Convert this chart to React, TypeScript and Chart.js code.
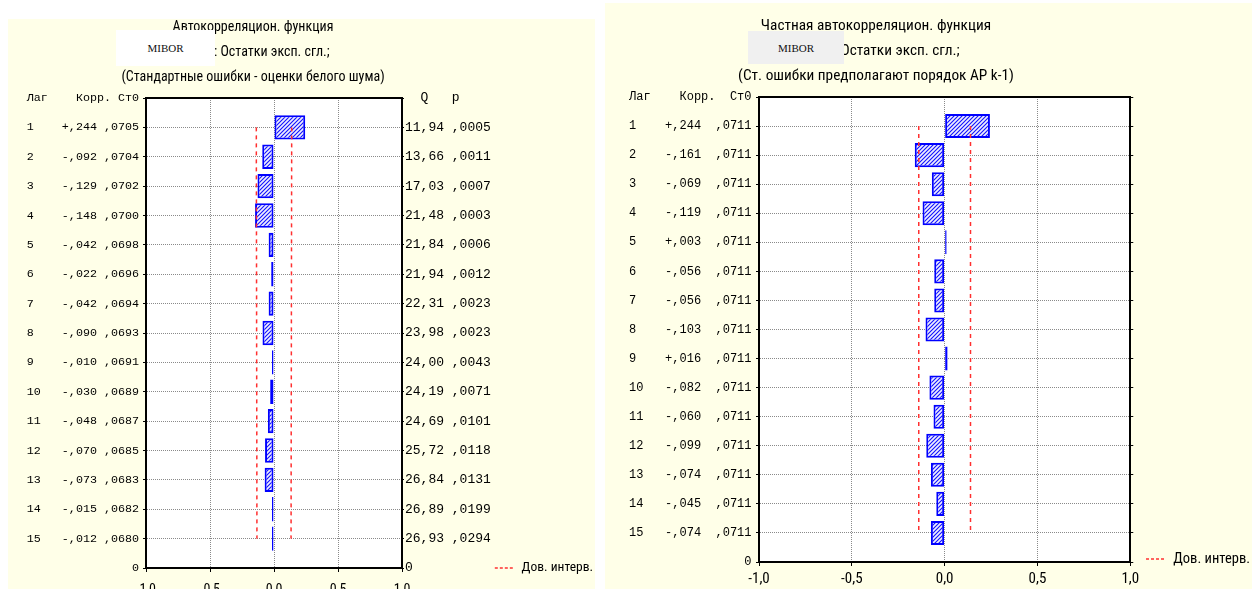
import React, { useEffect, useRef } from 'react';
import { Chart, registerables } from 'chart.js';

Chart.register(...registerables);

// ---------------- data ----------------
const VARIABLE = 'MIBOR';
const LAGS = [1, 2, 3, 4, 5, 6, 7, 8, 9, 10, 11, 12, 13, 14, 15];

const ACF_CORR = [0.244, -0.092, -0.129, -0.148, -0.042, -0.022, -0.042, -0.09, -0.01, -0.03, -0.048, -0.07, -0.073, -0.015, -0.012];
const ACF_SE = [0.0705, 0.0704, 0.0702, 0.07, 0.0698, 0.0696, 0.0694, 0.0693, 0.0691, 0.0689, 0.0687, 0.0685, 0.0683, 0.0682, 0.068];
const ACF_Q = [11.94, 13.66, 17.03, 21.48, 21.84, 21.94, 22.31, 23.98, 24.0, 24.19, 24.69, 25.72, 26.84, 26.89, 26.93];
const ACF_P = [0.0005, 0.0011, 0.0007, 0.0003, 0.0006, 0.0012, 0.0023, 0.0023, 0.0043, 0.0071, 0.0101, 0.0118, 0.0131, 0.0199, 0.0294];

const PACF_CORR = [0.244, -0.161, -0.069, -0.119, 0.003, -0.056, -0.056, -0.103, 0.016, -0.082, -0.06, -0.099, -0.074, -0.045, -0.074];
const PACF_SE = [0.0711, 0.0711, 0.0711, 0.0711, 0.0711, 0.0711, 0.0711, 0.0711, 0.0711, 0.0711, 0.0711, 0.0711, 0.0711, 0.0711, 0.0711];

const X_MIN = -1;
const X_MAX = 1;
const X_STEP = 0.5;
const Z95 = 1.96;

const ACF_TITLE = ['Автокорреляцион. функция', `${VARIABLE}: Остатки эксп. сгл.;`, '(Стандартные ошибки - оценки белого шума)'];
const PACF_TITLE = ['Частная автокорреляцион. функция', `${VARIABLE}: Остатки эксп. сгл.;`, '(Ст. ошибки предполагают порядок АР k-1)'];
const TABLE_HEAD = ['Лаг', 'Корр.', 'Ст0'];
const Q_HEAD = ['Q', 'p'];
const LEGEND_TEXT = 'Дов. интерв.';

// ---------------- styles ----------------
const CREAM = '#ffffe8';
const NARROW = "Roboto, 'DejaVu Sans Condensed', sans-serif";
const NARROW_W = 'condensed';
const MONO = "'Liberation Mono', 'DejaVu Sans Mono', monospace";
const BAR_BLUE = '#0000ff';
const CI_RED = '#ff3030';
const GRID = '#8a8a8a';
const NONE = 'rgba(0,0,0,0)';

const Y_MAX = LAGS.length + 1;

const frac = (v: number, d: number) => Math.abs(v).toFixed(d).replace(/^0\./, ',');
const signed = (v: number, d: number) => (v < 0 ? '-' : '+') + frac(v, d);
const dec = (v: number, d: number) => v.toFixed(d).replace('.', ',');

type Geo = {
  left: number; top: number; width: number; height: number;
  plotLeft: number; plotRight: number; padBottom: number;
  xAxisH: number; xLabelPad: number; xFont: number; topAxisH: number;
  titleFont: number; legendFont: number; legendPad: number;
  leftFont: number; leftTick: number; leftPad: number;
  rightFont: number; rightTick: number; rightPad: number;
};

type Spec = {
  title: string[];
  corr: number[];
  se: number[];
  leftText: (i: number) => string;
  leftHead: string;
  rightText: (i: number) => string;
  rightHead: string;
  rightZero: boolean;
  geo: Geo;
};

const ACF_SPEC: Spec = {
  title: ACF_TITLE,
  corr: ACF_CORR,
  se: ACF_SE,
  leftText: (i) => String(LAGS[i]).padEnd(5) + signed(ACF_CORR[i], 3) + ' ' + frac(ACF_SE[i], 4),
  leftHead: TABLE_HEAD[0].padEnd(7) + TABLE_HEAD[1] + ' ' + TABLE_HEAD[2],
  rightText: (i) => dec(ACF_Q[i], 2) + ' ' + frac(ACF_P[i], 4),
  rightHead: '  ' + Q_HEAD[0] + '   ' + Q_HEAD[1],
  rightZero: true,
  geo: {
    left: -97, top: 15, width: 700, height: 600,
    plotLeft: 243, plotRight: 499, padBottom: 37,
    xAxisH: 10, xLabelPad: -30.8, xFont: 14, topAxisH: 8,
    titleFont: 14, legendFont: 13.5, legendPad: 3.25,
    leftFont: 11.7, leftTick: 3, leftPad: 4,
    rightFont: 13, rightTick: 2, rightPad: 1,
  },
};

const PACF_SPEC: Spec = {
  title: PACF_TITLE,
  corr: PACF_CORR,
  se: PACF_SE,
  leftText: (i) => String(LAGS[i]).padEnd(5) + signed(PACF_CORR[i], 3) + '  ' + frac(PACF_SE[i], 4),
  leftHead: TABLE_HEAD[0].padEnd(7) + TABLE_HEAD[1] + '  ' + TABLE_HEAD[2],
  rightText: () => '',
  rightHead: '',
  rightZero: false,
  geo: {
    left: 492, top: 14, width: 768, height: 600,
    plotLeft: 267, plotRight: 641, padBottom: 42,
    xAxisH: 10, xLabelPad: -26, xFont: 15, topAxisH: 8,
    titleFont: 15.3, legendFont: 14.5, legendPad: 5.75,
    leftFont: 12, leftTick: 3, leftPad: 4.5,
    rightFont: 13, rightTick: 3, rightPad: 1,
  },
};

function makeHatch(): CanvasPattern | string {
  const c = document.createElement('canvas');
  c.width = 4;
  c.height = 4;
  const g = c.getContext('2d');
  if (!g) return '#8890ff';
  g.fillStyle = '#eeeeff';
  g.fillRect(0, 0, 4, 4);
  g.strokeStyle = '#1010ff';
  g.lineWidth = 1.1;
  g.beginPath();
  g.moveTo(0, 4); g.lineTo(4, 0);
  g.moveTo(-1, 1); g.lineTo(1, -1);
  g.moveTo(3, 5); g.lineTo(5, 3);
  g.stroke();
  return g.createPattern(c, 'repeat') || '#8890ff';
}

const plotBg = {
  id: 'plotBg',
  beforeDraw(chart: any) {
    const { ctx, chartArea: a } = chart;
    ctx.save();
    ctx.fillStyle = '#ffffff';
    ctx.fillRect(a.left, a.top, a.right - a.left, a.bottom - a.top);
    ctx.restore();
  },
};

function rowLabel(value: number, head: string, text: (i: number) => string, zero: boolean): string {
  if (value === 0) return head;
  if (value === Y_MAX) return zero ? '0' : '';
  const i = LAGS.indexOf(value);
  return i >= 0 ? text(i) : '';
}

function buildConfig(spec: Spec): any {
  const g = spec.geo;
  const hatch = makeHatch();
  const ci = (sign: number) => LAGS.map((l, i) => ({ x: sign * Z95 * spec.se[i], y: l }));
  const lineDs = (sign: number) => ({
    type: 'line',
    label: LEGEND_TEXT,
    data: ci(sign),
    indexAxis: 'y',
    xAxisID: 'x',
    yAxisID: 'y',
    borderColor: CI_RED,
    backgroundColor: CI_RED,
    borderWidth: 1.5,
    borderDash: [4, 4],
    pointRadius: 0,
    fill: false,
    tension: 0,
    order: 1,
  });
  return {
    type: 'bar',
    data: {
      datasets: [
        lineDs(-1),
        lineDs(1),
        {
          type: 'bar',
          label: 'Корр.',
          data: LAGS.map((l, i) => ({ x: spec.corr[i], y: l })),
          indexAxis: 'y',
          xAxisID: 'x',
          yAxisID: 'y',
          backgroundColor: hatch,
          borderColor: BAR_BLUE,
          borderWidth: 2,
          borderSkipped: false,
          minBarLength: 2,
          categoryPercentage: 1,
          barPercentage: 0.83,
          order: 2,
        },
      ],
    },
    options: {
      responsive: false,
      animation: false,
      indexAxis: 'y',
      layout: { padding: { left: 0, right: 0, top: 0, bottom: g.padBottom } },
      plugins: {
        tooltip: { enabled: false },
        title: {
          display: true,
          text: spec.title,
          color: '#000',
          font: { family: NARROW, size: g.titleFont, weight: NARROW_W, lineHeight: '25px' },
          padding: { top: 0, bottom: 0 },
        },
        legend: {
          display: true,
          position: 'right',
          align: 'end',
          fullSize: true,
          maxWidth: 400,
          labels: {
            usePointStyle: true,
            pointStyleWidth: 20,
            padding: g.legendPad,
            color: '#000',
            font: { family: NARROW, size: g.legendFont, weight: NARROW_W },
            generateLabels: () => [
              {
                text: LEGEND_TEXT,
                pointStyle: 'line',
                strokeStyle: CI_RED,
                fillStyle: CI_RED,
                lineWidth: 1.5,
                lineDash: [3, 2],
                fontColor: '#000',
                hidden: false,
                datasetIndex: 0,
              },
            ],
          },
        },
      },
      scales: {
        x: {
          type: 'linear',
          position: 'bottom',
          min: X_MIN,
          max: X_MAX,
          afterFit: (s: any) => { s.height = g.xAxisH; },
          ticks: {
            stepSize: X_STEP,
            autoSkip: false,
            maxRotation: 0,
            mirror: true,
            color: '#000',
            padding: g.xLabelPad,
            font: { family: NARROW, size: g.xFont, weight: NARROW_W },
            callback: (v: any) => dec(Number(v), 1),
          },
          grid: {
            color: (c: any) => (c.tick && (c.tick.value === X_MIN || c.tick.value === X_MAX) ? NONE : GRID),
            lineWidth: 1,
            tickColor: '#000',
            tickLength: 4,
          },
          border: { display: true, color: '#000', width: 2, dash: [1, 1] },
        },
        x2: {
          type: 'linear',
          position: 'top',
          min: X_MIN,
          max: X_MAX,
          afterFit: (s: any) => { s.height = g.topAxisH; },
          ticks: { display: false },
          grid: { display: false },
          border: { display: true, color: '#000', width: 2 },
        },
        y: {
          type: 'linear',
          position: 'left',
          min: 0,
          max: Y_MAX,
          reverse: true,
          offset: false,
          afterFit: (s: any) => { s.width = g.plotLeft; },
          ticks: {
            stepSize: 1,
            autoSkip: false,
            color: '#000',
            padding: g.leftPad,
            font: { family: MONO, size: g.leftFont },
            callback: (v: any) => rowLabel(Number(v), spec.leftHead, spec.leftText, true),
          },
          grid: {
            offset: false,
            color: (c: any) => (c.tick && (c.tick.value === 0 || c.tick.value === Y_MAX) ? NONE : GRID),
            lineWidth: 1,
            tickColor: '#000',
            tickLength: g.leftTick,
          },
          border: { display: true, color: '#000', width: 2, dash: [1, 1] },
        },
        y2: {
          type: 'linear',
          position: 'right',
          min: 0,
          max: Y_MAX,
          reverse: true,
          offset: false,
          afterFit: (s: any) => {
            const lw = (s.chart.legend && s.chart.legend.width) || 0;
            s.width = Math.max(10, g.width - lw - g.plotRight);
          },
          ticks: {
            stepSize: 1,
            autoSkip: false,
            color: '#000',
            padding: g.rightPad,
            font: { family: MONO, size: g.rightFont },
            callback: (v: any) => rowLabel(Number(v), spec.rightHead, spec.rightText, spec.rightZero),
          },
          grid: {
            offset: false,
            drawOnChartArea: false,
            tickColor: '#000',
            tickLength: g.rightTick,
          },
          border: { display: true, color: '#000', width: 2 },
        },
      },
    },
    plugins: [plotBg],
  };
}

function ChartPanel({ spec }: { spec: Spec }) {
  const ref = useRef<HTMLCanvasElement>(null);
  useEffect(() => {
    if (!ref.current) return;
    const chart = new Chart(ref.current, buildConfig(spec));
    return () => chart.destroy();
  }, [spec]);
  const g = spec.geo;
  return (
    <canvas
      ref={ref}
      width={g.width}
      height={g.height}
      style={{ position: 'absolute', left: g.left, top: g.top, width: g.width, height: g.height }}
    />
  );
}

const boxText: React.CSSProperties = {
  position: 'absolute',
  display: 'flex',
  alignItems: 'center',
  justifyContent: 'center',
  fontFamily: "'Liberation Serif', serif",
  fontSize: 11,
  color: '#111',
};

export default function App() {
  return (
    <div style={{ position: 'fixed', left: 0, top: 0, width: 1252, height: 589, overflow: 'hidden', background: '#ffffff' }}>
      <div style={{ position: 'absolute', left: 8, top: 19, width: 587, height: 570, background: CREAM }} />
      <div style={{ position: 'absolute', left: 605, top: 3, width: 647, height: 586, background: CREAM }} />
      <ChartPanel spec={ACF_SPEC} />
      <ChartPanel spec={PACF_SPEC} />
      <div style={{ ...boxText, left: 116, top: 30, width: 99, height: 36, background: '#ffffff' }}>{VARIABLE}</div>
      <div style={{ ...boxText, left: 748, top: 31, width: 96, height: 33, background: '#f0f0f0' }}>{VARIABLE}</div>
    </div>
  );
}
